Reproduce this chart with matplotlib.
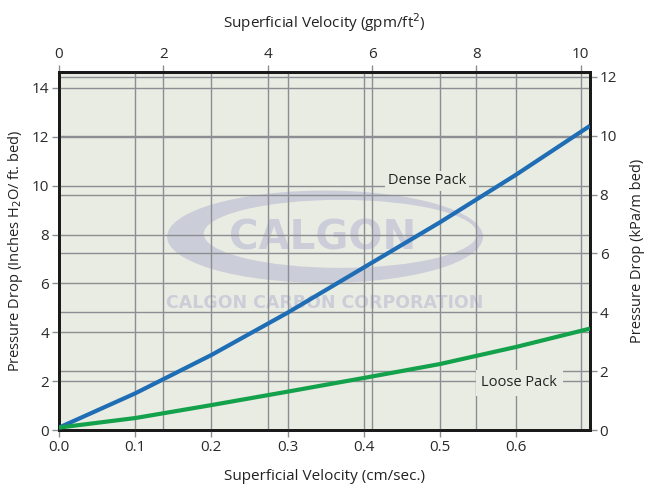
import matplotlib
matplotlib.use("Agg")
import matplotlib.pyplot as plt
from matplotlib.patches import Ellipse
import numpy as np

plt.rcParams['font.family'] = ['Open Sans', 'DejaVu Sans']
plt.rcParams['font.size'] = 11

# data
velocity_cm = [0.0, 0.1, 0.2, 0.3, 0.4, 0.5, 0.6, 0.697]
dense_pack = [0.1, 1.5, 3.07, 4.8, 6.65, 8.5, 10.45, 12.45]
loose_pack = [0.1, 0.49, 1.02, 1.57, 2.13, 2.7, 3.4, 4.15]

bottom_ticks = [0.0, 0.1, 0.2, 0.3, 0.4, 0.5, 0.6]
top_ticks = [0, 2, 4, 6, 8, 10]
left_ticks = [0, 2, 4, 6, 8, 10, 12, 14]
right_ticks = [0, 2, 4, 6, 8, 10, 12]

CM_PER_GPM = 0.0685     # cm/s per gpm/ft2
KPA_PER_INCH = 0.83     # kPa/m per inch H2O/ft
XMAX = 0.697
YMAX = 14.65

bg = '#e9ece2'
grid_col = '#8b8f94'
tick_col = '#2a2a2a'
wm_col = '#cbced8'

fig = plt.figure(figsize=(6.45, 4.87), dpi=100)
ax = fig.add_axes([0.0915, 0.117, 0.8232, 0.735])
ax_top = ax.twiny()
ax_right = ax.twinx()

# layering: background + watermark on the top-axis twin, curves on main ax
ax_top.set_zorder(1)
ax_right.set_zorder(2)
ax.set_zorder(3)
ax.patch.set_visible(False)
ax_right.patch.set_visible(False)
ax_top.patch.set_visible(True)
ax_top.set_facecolor(bg)
ax_top.set_axisbelow(False)

ax.set_xlim(0, XMAX)
ax.set_ylim(0, YMAX)
ax_top.set_xlim(0, XMAX / CM_PER_GPM)
ax_right.set_ylim(0, YMAX * KPA_PER_INCH)

ax.set_xticks(bottom_ticks)
ax.set_xticklabels([f"{t:.1f}" for t in bottom_ticks])
ax.set_yticks(left_ticks)
ax_top.set_xticks(top_ticks)
ax_right.set_yticks(right_ticks)

for a in (ax, ax_top, ax_right):
    a.grid(True, color=grid_col, linewidth=1.0)
    a.tick_params(colors=grid_col, labelcolor=tick_col, length=5, width=1.0,
                  labelsize=11, pad=2)
    for s in a.spines.values():
        s.set_linewidth(2.0)
        s.set_color('#1a1a1a')

# watermark
ax_top.add_patch(Ellipse((0.501, 0.54), 0.595, 0.258, transform=ax_top.transAxes,
                         facecolor=wm_col, edgecolor='none', zorder=1))
ax_top.add_patch(Ellipse((0.53, 0.548), 0.515, 0.19, transform=ax_top.transAxes,
                         facecolor=bg, edgecolor='none', zorder=1.1))
ax_top.text(0.497, 0.535, "CALGON", transform=ax_top.transAxes, ha='center', va='center',
            fontsize=29, fontweight='bold', color=wm_col, family='DejaVu Sans', zorder=1.2)
ax_top.text(0.5, 0.356, "CALGON CARBON CORPORATION", transform=ax_top.transAxes,
            ha='center', va='center', fontsize=12.5, fontweight='bold', color=wm_col,
            family='DejaVu Sans', zorder=1.2)

# curves
ax.plot(velocity_cm, dense_pack, color='#1f6db4', linewidth=3, solid_capstyle='butt', zorder=4)
ax.plot(velocity_cm, loose_pack, color='#13a14b', linewidth=3, solid_capstyle='butt', zorder=4)

ax.text(0.483, 10.2, "Dense Pack", ha='center', va='center', fontsize=10.5, color='#222222',
        bbox=dict(facecolor=bg, edgecolor='none', pad=2), zorder=5)
ax.text(0.604, 1.93, "Loose Pack", ha='center', va='center', fontsize=10.5, color='#222222',
        bbox=dict(facecolor=bg, edgecolor='none', pad=4), zorder=5)

ax.set_xlabel("Superficial Velocity (cm/sec.)", fontsize=11, color='#222222', labelpad=10)
ax.set_ylabel("Pressure Drop (Inches H$_2$O/ ft. bed)", fontsize=10.5, color='#222222', labelpad=5)
ax_top.set_xlabel("Superficial Velocity (gpm/ft$^2$)", fontsize=11, color='#222222', labelpad=14)
ax_right.set_ylabel("Pressure Drop (kPa/m bed)", fontsize=10.5, color='#222222', labelpad=9)

fig.savefig("out.png", dpi=100)
